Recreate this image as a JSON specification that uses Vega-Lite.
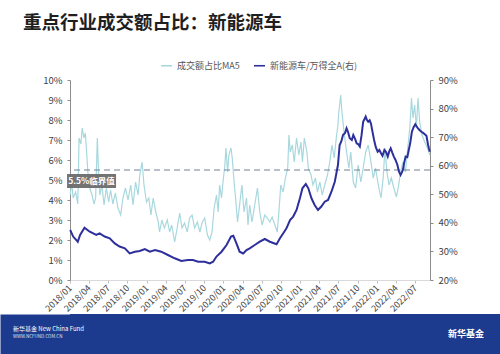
{
  "$schema": "https://vega.github.io/schema/vega-lite/v6.json",
  "padding": {"left": 0, "right": 0, "top": 13, "bottom": 0},
  "background": "white",
  "title": {"text": "重点行业成交额占比：新能源车", "anchor": "start", "frame": "group", "dx": -47, "fontSize": 18.5, "fontWeight": "bold", "color": "#1f1f1f", "font": "Noto Sans CJK SC", "offset": 27},
  "config": {"font": "Noto Sans CJK SC", "view": {"stroke": null}},
  "datasets": {
    "ma5": [
      {"d":"2018-01-02","v":4.25},{"d":"2018-01-09","v":4.9},{"d":"2018-01-16","v":4.1},{"d":"2018-01-28","v":4.4},{"d":"2018-02-07","v":3.8},{"d":"2018-02-13","v":7.1},{"d":"2018-02-22","v":6.8},{"d":"2018-02-28","v":7.6},{"d":"2018-03-08","v":7.1},{"d":"2018-03-15","v":7.35},{"d":"2018-03-21","v":6.4},{"d":"2018-03-27","v":5.4},{"d":"2018-04-05","v":4.6},{"d":"2018-04-16","v":4.25},{"d":"2018-04-25","v":3.8},{"d":"2018-05-03","v":4.1},{"d":"2018-05-11","v":7.1},{"d":"2018-05-17","v":5.4},{"d":"2018-05-23","v":4.25},{"d":"2018-06-02","v":4.75},{"d":"2018-06-12","v":3.75},{"d":"2018-06-23","v":4.6},{"d":"2018-07-04","v":3.9},{"d":"2018-07-13","v":4.5},{"d":"2018-07-24","v":3.8},{"d":"2018-08-05","v":4.35},{"d":"2018-08-17","v":3.6},{"d":"2018-08-30","v":3.25},{"d":"2018-09-10","v":4.1},{"d":"2018-09-22","v":4.6},{"d":"2018-10-04","v":4.0},{"d":"2018-10-17","v":4.75},{"d":"2018-10-28","v":3.75},{"d":"2018-11-09","v":4.9},{"d":"2018-11-21","v":4.25},{"d":"2018-11-29","v":5.25},{"d":"2018-12-10","v":5.9},{"d":"2018-12-19","v":4.75},{"d":"2018-12-31","v":3.9},
      {"d":"2019-01-11","v":4.1},{"d":"2019-01-21","v":3.25},{"d":"2019-02-01","v":4.1},{"d":"2019-02-13","v":3.4},{"d":"2019-02-25","v":2.9},{"d":"2019-03-03","v":2.4},{"d":"2019-03-14","v":3.0},{"d":"2019-03-26","v":2.6},{"d":"2019-04-09","v":3.0},{"d":"2019-04-20","v":2.4},{"d":"2019-04-30","v":2.75},{"d":"2019-05-14","v":1.9},{"d":"2019-05-26","v":2.6},{"d":"2019-06-07","v":3.35},{"d":"2019-06-18","v":2.6},{"d":"2019-06-30","v":2.85},{"d":"2019-07-13","v":2.4},{"d":"2019-07-24","v":3.1},{"d":"2019-08-05","v":3.25},{"d":"2019-08-17","v":2.6},{"d":"2019-08-30","v":2.9},{"d":"2019-09-11","v":2.4},{"d":"2019-09-21","v":2.85},{"d":"2019-10-04","v":3.1},{"d":"2019-10-17","v":2.25},{"d":"2019-10-28","v":2.0},{"d":"2019-11-08","v":2.4},{"d":"2019-11-18","v":3.6},{"d":"2019-11-29","v":4.25},{"d":"2019-12-07","v":3.4},{"d":"2019-12-14","v":4.75},{"d":"2019-12-23","v":4.1},{"d":"2019-12-30","v":4.9},
      {"d":"2020-01-08","v":5.75},{"d":"2020-01-13","v":6.6},{"d":"2020-01-21","v":5.4},{"d":"2020-01-27","v":6.25},{"d":"2020-02-06","v":6.6},{"d":"2020-02-12","v":6.1},{"d":"2020-02-22","v":4.75},{"d":"2020-02-28","v":4.1},{"d":"2020-03-08","v":2.9},{"d":"2020-03-18","v":3.75},{"d":"2020-03-29","v":4.75},{"d":"2020-04-08","v":3.4},{"d":"2020-04-20","v":4.1},{"d":"2020-04-27","v":2.75},{"d":"2020-05-05","v":3.75},{"d":"2020-05-16","v":2.9},{"d":"2020-05-29","v":3.75},{"d":"2020-06-11","v":4.6},{"d":"2020-06-22","v":3.4},{"d":"2020-07-03","v":2.75},{"d":"2020-07-16","v":3.25},{"d":"2020-07-28","v":3.1},{"d":"2020-08-09","v":2.9},{"d":"2020-08-20","v":3.15},{"d":"2020-09-02","v":2.75},{"d":"2020-09-13","v":2.4},{"d":"2020-09-21","v":3.4},{"d":"2020-09-30","v":4.75},{"d":"2020-10-11","v":4.4},{"d":"2020-10-22","v":5.1},{"d":"2020-11-02","v":5.6},{"d":"2020-11-08","v":7.25},{"d":"2020-11-14","v":6.4},{"d":"2020-11-24","v":6.75},{"d":"2020-12-03","v":5.9},{"d":"2020-12-14","v":7.1},{"d":"2020-12-25","v":6.25},
      {"d":"2021-01-04","v":6.9},{"d":"2021-01-11","v":5.9},{"d":"2021-01-20","v":7.1},{"d":"2021-02-01","v":6.4},{"d":"2021-02-08","v":5.6},{"d":"2021-02-21","v":5.25},{"d":"2021-03-02","v":4.75},{"d":"2021-03-14","v":5.1},{"d":"2021-03-23","v":4.4},{"d":"2021-04-04","v":4.9},{"d":"2021-04-15","v":4.25},{"d":"2021-04-27","v":4.75},{"d":"2021-05-10","v":5.25},{"d":"2021-05-21","v":5.9},{"d":"2021-06-01","v":6.75},{"d":"2021-06-11","v":6.1},{"d":"2021-06-22","v":7.2},{"d":"2021-06-29","v":7.75},{"d":"2021-07-03","v":8.4},{"d":"2021-07-07","v":8.75},{"d":"2021-07-12","v":9.25},{"d":"2021-07-18","v":8.4},{"d":"2021-07-28","v":7.4},{"d":"2021-08-09","v":6.4},{"d":"2021-08-20","v":5.6},{"d":"2021-08-29","v":6.4},{"d":"2021-09-10","v":4.9},{"d":"2021-09-21","v":4.6},{"d":"2021-10-03","v":5.75},{"d":"2021-10-16","v":4.9},{"d":"2021-10-27","v":5.6},{"d":"2021-11-08","v":6.4},{"d":"2021-11-20","v":6.75},{"d":"2021-12-03","v":5.9},{"d":"2021-12-14","v":5.1},{"d":"2021-12-25","v":5.6},
      {"d":"2022-01-07","v":4.75},{"d":"2022-01-20","v":4.1},{"d":"2022-01-30","v":5.1},{"d":"2022-02-08","v":6.6},{"d":"2022-02-17","v":5.4},{"d":"2022-02-27","v":4.75},{"d":"2022-03-10","v":5.1},{"d":"2022-03-22","v":4.6},{"d":"2022-04-03","v":4.15},{"d":"2022-04-14","v":4.75},{"d":"2022-04-23","v":5.4},{"d":"2022-05-04","v":5.9},{"d":"2022-05-16","v":5.4},{"d":"2022-05-25","v":6.4},{"d":"2022-06-06","v":7.6},{"d":"2022-06-14","v":9.1},{"d":"2022-06-21","v":8.1},{"d":"2022-06-29","v":8.75},{"d":"2022-07-07","v":7.6},{"d":"2022-07-15","v":9.1},{"d":"2022-07-23","v":7.9},{"d":"2022-08-03","v":7.25},{"d":"2022-08-16","v":6.9},{"d":"2022-08-29","v":6.6},{"d":"2022-09-09","v":6.25}
    ],
    "ratio": [
      {"d":"2018-01-02","v":37.5},{"d":"2018-01-16","v":35.2},{"d":"2018-02-07","v":33.4},{"d":"2018-02-18","v":35.75},{"d":"2018-03-11","v":38.3},{"d":"2018-04-05","v":36.9},{"d":"2018-05-06","v":35.75},{"d":"2018-05-22","v":36.3},{"d":"2018-06-15","v":35.2},{"d":"2018-07-09","v":34.6},{"d":"2018-08-02","v":32.8},{"d":"2018-08-25","v":31.7},{"d":"2018-09-19","v":31.1},{"d":"2018-10-12","v":29.3},{"d":"2018-11-06","v":29.9},{"d":"2018-11-29","v":30.15},{"d":"2018-12-23","v":30.85},
      {"d":"2019-01-16","v":29.9},{"d":"2019-02-10","v":30.5},{"d":"2019-03-11","v":29.9},{"d":"2019-04-12","v":28.75},{"d":"2019-05-14","v":27.6},{"d":"2019-06-15","v":26.65},{"d":"2019-07-16","v":27},{"d":"2019-08-09","v":27},{"d":"2019-09-03","v":26.4},{"d":"2019-10-04","v":26.4},{"d":"2019-10-28","v":25.8},{"d":"2019-11-13","v":26.4},{"d":"2019-11-29","v":28.2},{"d":"2019-12-23","v":29.9},
      {"d":"2020-01-16","v":32.25},{"d":"2020-02-06","v":35.2},{"d":"2020-02-17","v":35.5},{"d":"2020-03-03","v":32.8},{"d":"2020-03-18","v":29.9},{"d":"2020-04-04","v":29.3},{"d":"2020-04-20","v":30.5},{"d":"2020-05-05","v":31.1},{"d":"2020-05-29","v":32.25},{"d":"2020-06-22","v":33.4},{"d":"2020-07-16","v":34.35},{"d":"2020-08-09","v":33.4},{"d":"2020-09-10","v":32.5},{"d":"2020-09-26","v":34.6},{"d":"2020-10-11","v":36.3},{"d":"2020-10-27","v":38.1},{"d":"2020-11-13","v":41},{"d":"2020-11-28","v":42.2},{"d":"2020-12-14","v":44.5},{"d":"2020-12-30","v":48.6},
      {"d":"2021-01-11","v":52.1},{"d":"2021-01-27","v":53.6},{"d":"2021-02-08","v":52.1},{"d":"2021-02-23","v":48.6},{"d":"2021-03-10","v":46.25},{"d":"2021-03-26","v":44.5},{"d":"2021-04-11","v":45.7},{"d":"2021-04-27","v":47.4},{"d":"2021-05-13","v":48},{"d":"2021-05-29","v":50.9},{"d":"2021-06-14","v":54.4},{"d":"2021-06-29","v":60.25},{"d":"2021-07-07","v":67.25},{"d":"2021-07-15","v":68.5},{"d":"2021-07-23","v":70.75},{"d":"2021-08-02","v":71.5},{"d":"2021-08-09","v":73.1},{"d":"2021-08-16","v":71.8},{"d":"2021-08-24","v":69.6},{"d":"2021-09-03","v":69},{"d":"2021-09-10","v":70.75},{"d":"2021-09-18","v":69.5},{"d":"2021-09-26","v":67.85},{"d":"2021-10-04","v":67.5},{"d":"2021-10-11","v":66.7},{"d":"2021-10-19","v":70.5},{"d":"2021-10-27","v":75.4},{"d":"2021-11-08","v":77.2},{"d":"2021-11-14","v":76},{"d":"2021-11-20","v":75.4},{"d":"2021-11-27","v":75.9},{"d":"2021-12-03","v":74.8},{"d":"2021-12-10","v":72},{"d":"2021-12-18","v":69},{"d":"2021-12-26","v":66.5},
      {"d":"2022-01-04","v":64.9},{"d":"2022-01-12","v":65.5},{"d":"2022-01-20","v":64.4},{"d":"2022-01-27","v":63.5},{"d":"2022-02-05","v":65.5},{"d":"2022-02-13","v":64.8},{"d":"2022-02-21","v":63.2},{"d":"2022-02-28","v":65},{"d":"2022-03-07","v":66.1},{"d":"2022-03-15","v":64.5},{"d":"2022-03-22","v":63.2},{"d":"2022-03-30","v":62},{"d":"2022-04-08","v":60.25},{"d":"2022-04-15","v":58},{"d":"2022-04-23","v":56.75},{"d":"2022-04-28","v":57.5},{"d":"2022-05-04","v":58.5},{"d":"2022-05-10","v":61},{"d":"2022-05-17","v":63.2},{"d":"2022-05-25","v":63},{"d":"2022-06-01","v":65.5},{"d":"2022-06-08","v":68},{"d":"2022-06-16","v":71.9},{"d":"2022-06-24","v":73.5},{"d":"2022-07-02","v":74.5},{"d":"2022-07-08","v":73.8},{"d":"2022-07-15","v":73.1},{"d":"2022-07-22","v":72.5},{"d":"2022-07-31","v":71.9},{"d":"2022-08-08","v":71.5},{"d":"2022-08-16","v":71},{"d":"2022-08-24","v":70.5},{"d":"2022-09-01","v":67.25},{"d":"2022-09-05","v":66},{"d":"2022-09-09","v":64.9}
    ]
  },
  "concat": [
    {
      "width": 360,
      "height": 200,
      "layer": [
        {
          "layer": [
            {
              "data": {"name": "ma5"},
              "mark": {"type": "line", "strokeWidth": 1.2},
              "encoding": {
                "x": {"field": "d", "type": "temporal",
                  "scale": {"type": "utc", "domain": [{"year": 2018, "month": 1, "date": 1, "utc": true}, {"year": 2022, "month": 9, "date": 10, "utc": true}]},
                  "axis": {"format": "%Y/%m", "tickCount": {"interval": "month", "step": 3}, "labelAngle": -45, "labelAlign": "right", "labelBaseline": "middle", "labelPadding": 3, "labelFontSize": 9, "labelColor": "#444444", "domainColor": "#d9d9d9", "tickColor": "#bfbfbf", "tickSize": 3, "grid": false, "title": null, "labelOverlap": false, "labelFlush": false}},
                "y": {"field": "v", "type": "quantitative", "scale": {"domain": [0, 10]},
                  "axis": {"values": [0,1,2,3,4,5,6,7,8,9,10], "labelExpr": "datum.value + '%'", "labelOverlap": false, "domainColor": "#8c8c8c", "tickColor": "#8c8c8c", "tickSize": 3, "labelPadding": 5, "labelFontSize": 9.5, "labelColor": "#404040", "grid": false, "title": null, "minExtent": 70}},
                "color": {"datum": "成交额占比MA5", "type": "nominal",
                  "scale": {"domain": ["成交额占比MA5", "新能源车/万得全A(右)"], "range": ["#a8d8de", "#2d2f9b"]},
                  "legend": {"orient": "none", "legendX": 90, "legendY": -21, "direction": "horizontal", "symbolType": "stroke", "symbolSize": 120, "symbolStrokeWidth": 1.6, "labelFontSize": 9, "labelColor": "#555555", "columnPadding": 10, "title": null}}
              }
            },
            {
              "data": {"values": [{}]},
              "mark": {"type": "rule", "strokeDash": [6, 4], "color": "#74829a", "strokeWidth": 1.2},
              "encoding": {"y": {"datum": 5.5, "type": "quantitative",
                "axis": {"values": [0,1,2,3,4,5,6,7,8,9,10], "labelExpr": "datum.value + '%'", "labelOverlap": false, "domainColor": "#8c8c8c", "tickColor": "#8c8c8c", "tickSize": 3, "labelPadding": 5, "labelFontSize": 9.5, "labelColor": "#404040", "grid": false, "title": null, "minExtent": 70}}}
            },
            {
              "data": {"values": [{}]},
              "mark": {"type": "rect", "color": "#6b6b6b", "opacity": 0.95},
              "encoding": {
                "x": {"datum": {"year": 2017, "month": 12, "date": 18, "utc": true}, "type": "temporal"},
                "x2": {"datum": {"year": 2018, "month": 8, "date": 8, "utc": true}},
                "y": {"datum": 5.3, "type": "quantitative",
                  "axis": {"values": [0,1,2,3,4,5,6,7,8,9,10], "labelExpr": "datum.value + '%'", "labelOverlap": false, "domainColor": "#8c8c8c", "tickColor": "#8c8c8c", "tickSize": 3, "labelPadding": 5, "labelFontSize": 9.5, "labelColor": "#404040", "grid": false, "title": null, "minExtent": 70}},
                "y2": {"datum": 4.6}
              }
            },
            {
              "data": {"values": [{}]},
              "mark": {"type": "text", "color": "white", "fontWeight": "bold", "fontSize": 8.5, "align": "center", "baseline": "middle"},
              "encoding": {
                "x": {"datum": {"year": 2018, "month": 4, "date": 13, "utc": true}, "type": "temporal"},
                "y": {"datum": 4.95, "type": "quantitative",
                  "axis": {"values": [0,1,2,3,4,5,6,7,8,9,10], "labelExpr": "datum.value + '%'", "labelOverlap": false, "domainColor": "#8c8c8c", "tickColor": "#8c8c8c", "tickSize": 3, "labelPadding": 5, "labelFontSize": 9.5, "labelColor": "#404040", "grid": false, "title": null, "minExtent": 70}},
                "text": {"value": "5.5%临界值"}
              }
            }
          ]
        },
        {
          "data": {"name": "ratio"},
          "mark": {"type": "line", "strokeWidth": 2},
          "encoding": {
            "x": {"field": "d", "type": "temporal"},
            "y": {"field": "v", "type": "quantitative", "scale": {"domain": [20, 90]},
              "axis": {"orient": "right", "values": [20,30,40,50,60,70,80,90], "labelExpr": "datum.value + '%'", "labelOverlap": false, "domainColor": "#8c8c8c", "tickColor": "#8c8c8c", "tickSize": 3, "labelPadding": 5, "labelFontSize": 9.5, "labelColor": "#404040", "grid": false, "title": null}},
            "color": {"datum": "新能源车/万得全A(右)", "type": "nominal"}
          }
        }
      ],
      "resolve": {"scale": {"y": "independent"}}
    },
    {
      "width": 430,
      "height": 41,
      "view": {"fill": "#1c3b8e", "stroke": null},
      "title": {"text": "新华基金 New China Fund", "subtitle": "WWW.NCFUND.COM.CN", "anchor": "start", "frame": "group", "dx": -57, "offset": -24, "fontSize": 6, "subtitleFontSize": 4.5, "color": "white", "subtitleColor": "#dfe6f5", "fontWeight": "normal", "subtitlePadding": 2},
      "data": {"values": [{"brand": "新华基金"}]},
      "mark": {"type": "text", "color": "white", "fontSize": 9, "fontWeight": "bold", "align": "right", "baseline": "middle", "dx": -16, "dy": -21},
      "encoding": {
        "text": {"field": "brand", "type": "nominal"},
        "x": {"value": "width"},
        "y": {"datum": 0, "type": "quantitative", "scale": {"domain": [0, 1]},
          "axis": {"domain": true, "domainColor": "#1c3b8e", "domainWidth": 140, "ticks": false, "labels": false, "grid": false, "title": null, "minExtent": 0, "maxExtent": 0}}
      }
    }
  ],
  "columns": 1,
  "align": "none",
  "spacing": 0,
  "bounds": "full"
}
